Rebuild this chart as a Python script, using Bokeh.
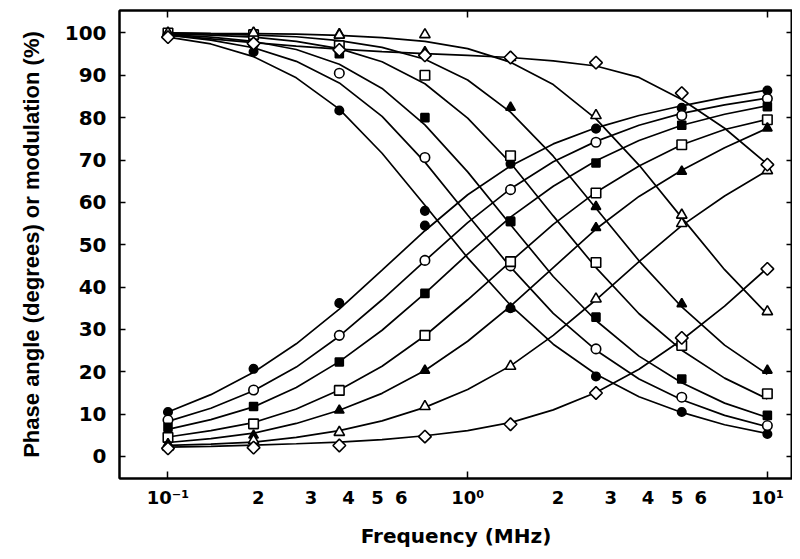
from bokeh.plotting import figure
from bokeh.models import Range1d, FixedTicker, LogAxis, LinearAxis
from bokeh.embed import file_html
from bokeh.resources import INLINE
import math

# ---- data ----
freqs = [0.1, 0.193, 0.373, 0.72, 1.39, 2.68, 5.18, 10.0]
curve_freqs = [0.1, 0.139, 0.193, 0.268, 0.373, 0.518, 0.72, 1.0, 1.39, 1.93, 2.68, 3.73, 5.18, 7.2, 10.0]

# filled circle
fc_phase_curve = [10.5, 14.6, 19.9, 26.6, 34.8, 44.0, 53.3, 61.8, 68.6, 73.8, 77.6, 80.5, 82.8, 84.8, 86.5]
fc_mod_curve = [99.0, 97.4, 94.4, 89.4, 82.0, 71.6, 59.3, 46.9, 35.7, 26.5, 19.4, 14.1, 10.4, 7.5, 5.4]
fc_phase_pts = [10.5, 20.7, 36.2, 54.5, 69.1, 77.4, 82.3, 86.4]
fc_mod_pts = [99.6, 95.5, 81.7, 58.0, 35.0, 18.9, 10.5, 5.3]
# open circle
oc_phase_curve = [8.3, 11.4, 15.5, 21.1, 28.4, 37.0, 46.2, 55.2, 63.2, 69.6, 74.4, 78.2, 81.0, 83.0, 84.6]
oc_mod_curve = [99.5, 98.3, 96.5, 93.3, 88.2, 80.3, 69.5, 57.0, 44.7, 33.8, 25.1, 18.3, 13.4, 9.7, 7.0]
oc_phase_pts = [8.6, 15.7, 28.6, 46.3, 63.0, 74.2, 80.5, 84.5]
oc_mod_pts = [99.5, 97.4, 90.5, 70.6, 45.0, 25.4, 14.0, 7.3]
# filled square
fs_phase_curve = [6.4, 8.7, 11.7, 16.3, 22.4, 29.8, 38.5, 47.8, 56.5, 63.8, 69.8, 74.6, 78.2, 80.8, 82.8]
fs_mod_curve = [99.6, 99.0, 98.0, 96.1, 92.6, 86.9, 78.3, 67.2, 54.7, 42.5, 32.1, 23.7, 17.4, 12.6, 9.2]
fs_phase_pts = [6.9, 11.8, 22.3, 38.5, 55.5, 69.3, 78.2, 82.6]
fs_mod_pts = [100.0, 99.2, 95.1, 80.0, 55.5, 32.9, 18.3, 9.7]
# open square
os_phase_curve = [4.6, 6.1, 8.0, 11.2, 15.7, 21.3, 28.5, 37.0, 46.0, 54.8, 62.4, 68.6, 73.6, 77.2, 79.6]
os_mod_curve = [99.8, 99.5, 99.0, 98.0, 96.3, 93.2, 88.0, 79.9, 69.3, 56.8, 44.6, 33.7, 25.1, 18.5, 13.6]
os_phase_pts = [4.5, 7.7, 15.6, 28.6, 46.0, 62.2, 73.6, 79.5]
os_mod_pts = [100.0, 99.6, 97.0, 90.0, 71.0, 45.8, 26.2, 14.8]
# filled triangle
ft_phase_curve = [3.3, 4.2, 5.5, 7.8, 10.9, 14.9, 20.3, 27.2, 35.5, 44.6, 53.7, 61.4, 67.6, 72.9, 77.5]
ft_mod_curve = [100.0, 99.8, 99.5, 99.1, 98.2, 96.6, 93.8, 88.9, 81.3, 70.9, 58.6, 46.2, 35.3, 26.3, 19.4]
ft_phase_pts = [3.0, 5.0, 10.9, 20.3, 35.0, 54.0, 67.3, 77.5]
ft_mod_pts = [100.0, 100.0, 99.8, 95.5, 82.4, 59.0, 36.0, 20.3]
# open triangle
ot_phase_curve = [2.6, 2.9, 3.4, 4.5, 6.1, 8.4, 11.6, 15.8, 21.4, 28.6, 37.0, 46.0, 54.5, 61.5, 67.5]
ot_mod_curve = [100.0, 99.9, 99.85, 99.7, 99.45, 98.9, 98.0, 96.3, 93.1, 87.8, 79.7, 68.8, 56.4, 44.1, 33.6]
ot_phase_pts = [2.2, 3.8, 5.7, 11.8, 21.3, 37.2, 55.0, 67.5]
ot_mod_pts = [100.0, 100.0, 99.5, 99.6, 94.2, 80.5, 57.0, 34.2]
# open diamond
od_phase_curve = [2.2, 2.4, 2.7, 3.0, 3.4, 4.0, 4.9, 6.1, 8.0, 11.0, 15.1, 20.6, 27.5, 35.5, 44.5]
od_mod_curve = [99.5, 98.6, 97.7, 96.9, 96.2, 95.6, 95.1, 94.7, 94.2, 93.4, 92.2, 89.5, 84.3, 77.5, 69.0]
od_phase_pts = [1.9, 2.1, 2.6, 4.7, 7.6, 15.0, 28.0, 44.3]
od_mod_pts = [99.0, 97.5, 96.0, 94.7, 94.2, 93.0, 85.8, 68.9]

x_tick_vals = [0.1, 0.2, 0.3, 0.4, 0.5, 0.6, 1.0, 2.0, 3.0, 4.0, 5.0, 6.0, 10.0]
x_tick_text = ["10\u207b\u00b9", "2", "3", "4", "5", "6", "10\u2070", "2", "3", "4", "5", "6", "10\u00b9"]
decades = [0.1, 1.0, 10.0]
y_ticks = [0, 10, 20, 30, 40, 50, 60, 70, 80, 90, 100]

FONT = "DejaVu Sans"
LABEL_FONT = "Liberation Sans"

p = figure(width=792, height=551, x_axis_type="log",
           x_range=Range1d(0.0689, 12.13), y_range=Range1d(-5.2, 105.3),
           output_backend="svg", toolbar_location=None,
           min_border_left=119, min_border_right=0, min_border_top=10, min_border_bottom=73)
p.xgrid.visible = False
p.ygrid.visible = False
p.outline_line_color = "black"
p.outline_line_width = 2
p.background_fill_color = "white"
p.border_fill_color = "white"

# bottom axis
xa = p.xaxis[0]
xa.ticker = FixedTicker(ticks=x_tick_vals, minor_ticks=decades)
xa.major_label_overrides = {v: t for v, t in zip(x_tick_vals, x_tick_text)}
xa.major_tick_in = 0
xa.major_tick_out = 0
xa.minor_tick_in = 7
xa.minor_tick_out = 0
xa.minor_tick_line_width = 1.5
xa.axis_line_width = 2
xa.major_label_standoff = 8
xa.major_label_text_font = FONT
xa.major_label_text_font_style = "bold"
xa.major_label_text_font_size = "18px"
xa.major_label_text_color = "black"
xa.axis_label = "Frequency (MHz)"
xa.axis_label_text_font = FONT
xa.axis_label_text_font_style = "bold"
xa.axis_label_text_font_size = "20px"
xa.axis_label_text_color = "black"
xa.axis_label_standoff = 13

# left axis
ya = p.yaxis[0]
ya.ticker = FixedTicker(ticks=y_ticks)
ya.major_tick_in = 6
ya.major_tick_out = 0
ya.major_tick_line_width = 1.5
ya.minor_tick_line_color = None
ya.axis_line_width = 2
ya.major_label_standoff = 13
ya.major_label_text_font = FONT
ya.major_label_text_font_style = "bold"
ya.major_label_text_font_size = "20px"
ya.major_label_text_color = "black"
ya.axis_label = "Phase angle (degrees) or modulation (%)"
ya.axis_label_text_font = LABEL_FONT
ya.axis_label_text_font_style = "bold"
ya.axis_label_text_font_size = "22px"
ya.axis_label_text_color = "black"
ya.axis_label_standoff = 18

# top and right axes (ticks only)
top = LogAxis(ticker=FixedTicker(ticks=decades), major_tick_in=7, major_tick_out=0,
              minor_tick_line_color=None, major_label_text_font_size="1px",
              major_label_text_alpha=0, major_label_standoff=0,
              axis_line_width=2, major_tick_line_width=1.5)
p.add_layout(top, "above")
right = LinearAxis(ticker=FixedTicker(ticks=y_ticks), major_tick_in=6, major_tick_out=0,
                   minor_tick_line_color=None, major_label_text_font_size="1px",
                   major_label_text_alpha=0, major_label_standoff=0,
                   axis_line_width=2, major_tick_line_width=1.5)
p.add_layout(right, "right")

series = [
    (fc_phase_curve, fc_mod_curve, fc_phase_pts, fc_mod_pts, "circle", 8.5, "black", 0),
    (oc_phase_curve, oc_mod_curve, oc_phase_pts, oc_mod_pts, "circle", 9.5, "white", 0),
    (fs_phase_curve, fs_mod_curve, fs_phase_pts, fs_mod_pts, "square", 8, "black", 0),
    (os_phase_curve, os_mod_curve, os_phase_pts, os_mod_pts, "square", 9.5, "white", 0),
    (ft_phase_curve, ft_mod_curve, ft_phase_pts, ft_mod_pts, "triangle", 9.5, "black", 0),
    (ot_phase_curve, ot_mod_curve, ot_phase_pts, ot_mod_pts, "triangle", 10.5, "white", 0),
    (od_phase_curve, od_mod_curve, od_phase_pts, od_mod_pts, "square", 9, "white", math.pi / 4),
]

for pc, mc, _, _, *_ in series:
    p.line(curve_freqs, pc, line_color="black", line_width=1.7)
    p.line(curve_freqs, mc, line_color="black", line_width=1.7)

for _, _, pp, mp, marker, size, fill, ang in series:
    for vals in (pp, mp):
        p.scatter(freqs, vals, marker=marker, size=size, fill_color=fill,
                  line_color="black", line_width=1.6, angle=ang)

open("out.html", "w").write(file_html(p, INLINE))
